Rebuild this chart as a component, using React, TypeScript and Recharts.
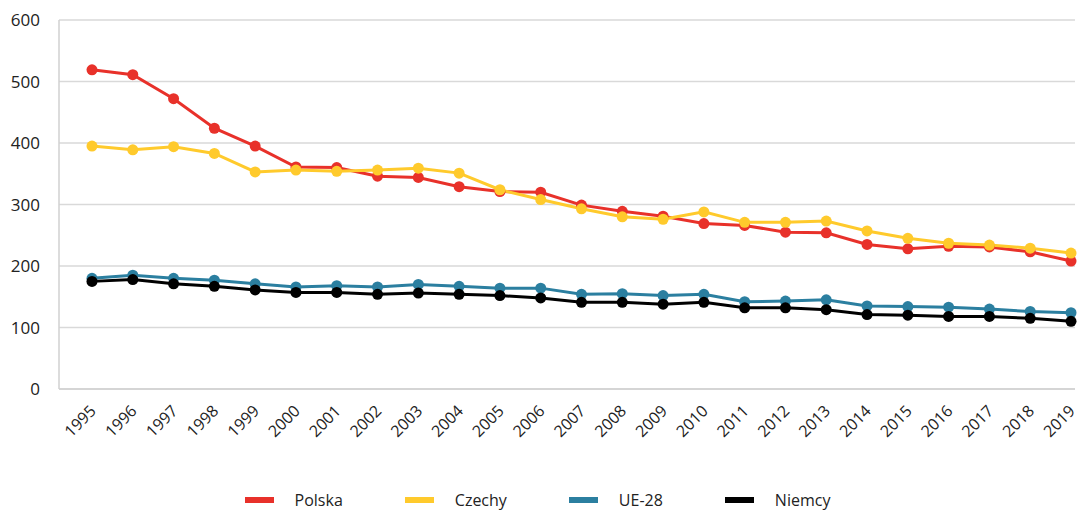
import {
  LineChart,
  Line,
  XAxis,
  YAxis,
  CartesianGrid,
  Legend,
} from "recharts";

const years = [
  "1995", "1996", "1997", "1998", "1999", "2000", "2001", "2002", "2003",
  "2004", "2005", "2006", "2007", "2008", "2009", "2010", "2011", "2012",
  "2013", "2014", "2015", "2016", "2017", "2018", "2019",
];

const polska = [
  519, 511, 472, 424, 395, 361, 360, 346, 344, 329, 321, 320, 299, 289, 281,
  269, 266, 255, 254, 235, 228, 232, 231, 223, 208,
];

const czechy = [
  395, 389, 394, 383, 353, 356, 354, 356, 359, 351, 324, 308, 293, 280, 276,
  288, 271, 271, 273, 257, 245, 237, 234, 229, 221,
];

const ue28 = [
  180, 185, 180, 177, 171, 166, 168, 166, 170, 167, 164, 164, 154, 155, 152,
  154, 142, 143, 145, 135, 134, 133, 130, 126, 124,
];

const niemcy = [
  175, 178, 171, 167, 161, 157, 157, 154, 156, 154, 152, 148, 141, 141, 138,
  141, 132, 132, 129, 121, 120, 118, 118, 115, 110,
];

const yTicks = [0, 100, 200, 300, 400, 500, 600];

const series = [
  { key: "polska", name: "Polska", color: "#e8312a" },
  { key: "czechy", name: "Czechy", color: "#ffca2c" },
  { key: "ue28", name: "UE-28", color: "#2b7fa0" },
  { key: "niemcy", name: "Niemcy", color: "#000000" },
];

const data = years.map((year, i) => ({
  year,
  polska: polska[i],
  czechy: czechy[i],
  ue28: ue28[i],
  niemcy: niemcy[i],
}));

const FONT = "'Open Sans', 'Noto Sans', sans-serif";

function ChartLegend() {
  return (
    <div
      style={{
        display: "flex",
        justifyContent: "center",
        alignItems: "center",
        fontFamily: FONT,
        fontSize: 16,
        color: "#222",
        paddingLeft: 62,
      }}
    >
      {series.map((s) => (
        <div
          key={s.key}
          style={{ display: "flex", alignItems: "center", marginRight: 62 }}
        >
          <span
            style={{
              display: "inline-block",
              width: 29,
              height: 6,
              background: s.color,
              marginRight: 21,
            }}
          />
          <span>{s.name}</span>
        </div>
      ))}
    </div>
  );
}

export default function App() {
  return (
    <div style={{ position: "absolute", left: 0, top: 0, background: "#fff" }}>
      <LineChart
        width={1081}
        height={513}
        data={data}
        margin={{ top: 20, right: 6, bottom: 0, left: 0 }}
      >
        <CartesianGrid
          vertical={false}
          stroke="#d9d9d9"
          strokeWidth={1.5}
        />
        <XAxis
          dataKey="year"
          scale="point"
          padding={{ left: 33, right: 4 }}
          axisLine={{ stroke: "#d0d0d0", strokeWidth: 1.5 }}
          tickLine={false}
          interval={0}
          angle={-45}
          textAnchor="end"
          height={100}
          tickMargin={9}
          tick={{ fill: "#222", fontSize: 16, fontFamily: FONT, dx: -3 }}
        />
        <YAxis
          domain={[0, 600]}
          ticks={yTicks}
          width={59}
          axisLine={{ stroke: "#d0d0d0", strokeWidth: 1.5 }}
          tickLine={false}
          tickMargin={13}
          tick={{ fill: "#222", fontSize: 17, fontFamily: FONT }}
        />
        <YAxis
          yAxisId="right"
          orientation="right"
          width={0}
          domain={[0, 600]}
          tick={false}
          tickLine={false}
          axisLine={{ stroke: "#d0d0d0", strokeWidth: 1.5 }}
        />
        <Legend
          verticalAlign="bottom"
          height={24}
          content={() => <ChartLegend />}
        />
        {series.map((s) => (
          <Line
            key={s.key}
            type="linear"
            dataKey={s.key}
            name={s.name}
            stroke={s.color}
            strokeWidth={3}
            dot={{ r: 5.5, fill: s.color, stroke: s.color, strokeWidth: 0 }}
            activeDot={false}
            isAnimationActive={false}
          />
        ))}
      </LineChart>
    </div>
  );
}
